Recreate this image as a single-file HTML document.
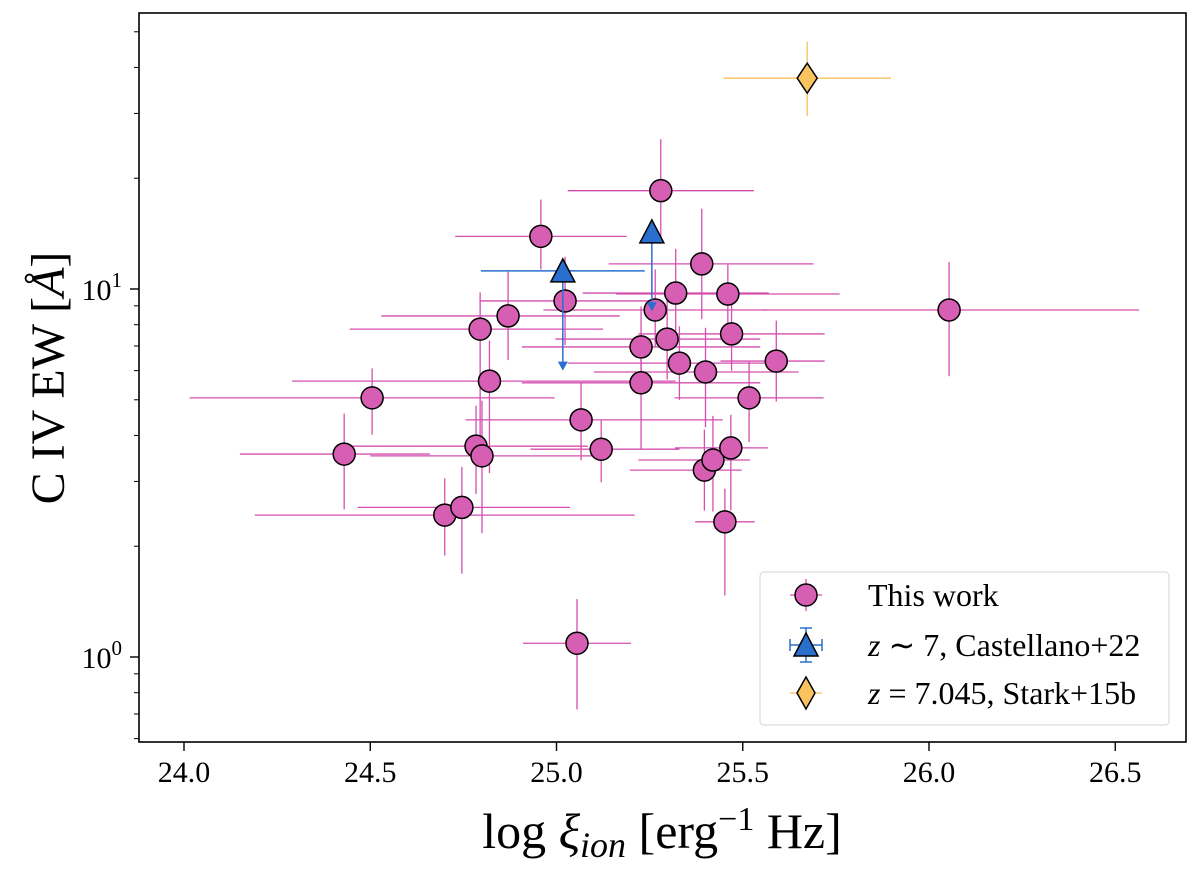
<!DOCTYPE html>
<html><head><meta charset="utf-8"><style>
body{margin:0;background:#fff}
svg{display:block;font-family:"Liberation Serif",serif}
</style></head><body>
<svg id="chart" width="1200" height="869" viewBox="0 0 1200 869">
<rect x="0" y="0" width="1200" height="869" fill="#fff"/>
<g id="axes"></g>
<g id="marks"></g>
<rect x="139" y="13" width="1047" height="729" fill="none" stroke="#000" stroke-width="1.6"/>
<text x="662" y="848" font-size="50" text-anchor="middle">log <tspan font-style="italic">ξ</tspan><tspan font-style="italic" font-size="36" dy="9">ion</tspan><tspan dy="-9"> [erg</tspan><tspan font-size="34" dy="-18">−1</tspan><tspan dy="18"> Hz]</tspan></text>
<text transform="translate(64,378) rotate(-90)" font-size="48" text-anchor="middle">C IV EW [<tspan font-style="italic">Å</tspan>]</text>
<g>
<rect x="760" y="572" width="409" height="153" rx="4" fill="#fff" stroke="#ddd" stroke-width="1.2"/>
<g>
<line x1="790" y1="595" x2="822" y2="595" stroke="#d44fb0" stroke-width="1.3"/><line x1="806" y1="579" x2="806" y2="611" stroke="#d44fb0" stroke-width="1.3"/>
<circle cx="806" cy="595" r="11" fill="#d65fb3" stroke="#000" stroke-width="1.5"/>
<text x="868" y="606" font-size="32">This work</text></g>
<g>
<line x1="790" y1="645" x2="822" y2="645" stroke="#2a6fce" stroke-width="1.5"/><line x1="790" y1="639" x2="790" y2="651" stroke="#2a6fce" stroke-width="1.5"/><line x1="822" y1="639" x2="822" y2="651" stroke="#2a6fce" stroke-width="1.5"/>
<line x1="806" y1="628" x2="806" y2="662" stroke="#2a6fce" stroke-width="1.5"/><line x1="800" y1="628" x2="812" y2="628" stroke="#2a6fce" stroke-width="1.5"/><line x1="800" y1="662" x2="812" y2="662" stroke="#2a6fce" stroke-width="1.5"/>
<polygon points="806,633 818,656 794,656" fill="#2a6fce" stroke="#000" stroke-width="1.5"/>
<text x="868" y="656" font-size="32"><tspan font-style="italic">z</tspan> ∼ 7, Castellano+22</text></g>
<g>
<line x1="790" y1="693" x2="822" y2="693" stroke="#f7c05a" stroke-width="1.3"/>
<polygon points="806,677 815,693 806,709 797,693" fill="#fbc35e" stroke="#000" stroke-width="1.5"/>
<text x="868" y="704" font-size="32"><tspan font-style="italic">z</tspan> = 7.045, Stark+15b</text></g>
</g>
</svg>
<script>
const xVals=[24.505,24.43,24.70,24.746,24.784,24.80,24.795,24.87,24.82,24.958,25.023,25.066,25.12,25.055,25.28,25.227,25.227,25.297,25.265,25.32,25.33,25.39,25.40,25.397,25.42,25.468,25.452,25.46,25.47,25.517,25.59,26.054];
const yVals=[5.06,3.56,2.43,2.55,3.74,3.52,7.78,8.45,5.62,13.9,9.28,4.41,3.67,1.09,18.5,6.96,5.56,7.31,8.77,9.75,6.29,11.7,5.95,3.22,3.43,3.70,2.33,9.69,7.55,5.06,6.37,8.77];
const xErrLo=[0.49,0.28,0.51,0.28,0.36,0.3,0.35,0.34,0.53,0.23,0.23,0.31,0.19,0.145,0.25,0.32,0.32,0.3,0.3,0.25,0.3,0.25,0.3,0.2,0.2,0.15,0.08,0.3,0.25,0.2,0.15,0.5];
const xErrHi=[0.49,0.23,0.51,0.29,0.3,0.3,0.33,0.3,0.5,0.23,0.23,0.38,0.21,0.145,0.25,0.32,0.32,0.25,0.3,0.25,0.25,0.3,0.25,0.1,0.1,0.1,0.08,0.3,0.25,0.2,0.13,0.51];
const yErrLoDex=[0.10,0.15,0.11,0.18,0.13,0.21,0.3,0.12,0.25,0.09,0.12,0.11,0.09,0.18,0.13,0.12,0.18,0.11,0.1,0.11,0.1,0.15,0.15,0.11,0.14,0.17,0.2,0.1,0.1,0.12,0.11,0.18];
const yErrHiDex=[0.08,0.11,0.10,0.11,0.11,0.15,0.1,0.12,0.11,0.1,0.12,0.1,0.08,0.12,0.14,0.11,0.13,0.11,0.11,0.12,0.1,0.15,0.12,0.11,0.12,0.09,0.09,0.08,0.1,0.1,0.11,0.13];
const castX=[25.017,25.256];
const castY=[11.2,14.3];
const castArrowTo=[6.0,8.7];
const castXErrLo=[0.22,0];
const castXErrHi=[0.22,0];
const starkX=[25.673];
const starkY=[37.4];
const starkXErr=[0.225];
const starkYLo=[29.5];
const starkYHi=[47];
const xTicks=[24.0,24.5,25.0,25.5,26.0,26.5];
const xTickLabels=["24.0","24.5","25.0","25.5","26.0","26.5"];

const NS="http://www.w3.org/2000/svg";
const X=v=>184+(v-24)*372.5;
const Y=v=>657-Math.log10(v)*368;
function mk(tag,attrs,parent){const e=document.createElementNS(NS,tag);for(const k in attrs)e.setAttribute(k,attrs[k]);parent.appendChild(e);return e;}
const axes=document.getElementById('axes'),marks=document.getElementById('marks');
xTicks.forEach((t,i)=>{
 const l=mk('line',{x1:X(t),x2:X(t),y1:742,y2:751,stroke:'#000','stroke-width':1.4},axes);
 
 
 const tx=mk('text',{x:X(t),y:782,'font-size':30,'text-anchor':'middle'},axes);tx.textContent=xTickLabels[i];
 
 
});
[[1,'0'],[10,'1']].forEach(([v,e])=>{
 const l=mk('line',{x1:130,x2:139,y1:Y(v),y2:Y(v),stroke:'#000','stroke-width':1.4},axes);
 
 
 const tx=mk('text',{x:122,y:Y(v)+11,'font-size':30,'text-anchor':'end'},axes);
 tx.innerHTML='10<tspan font-size="21" dy="-13">'+e+'</tspan>';
 
 
});
[0.6,0.7,0.8,0.9,2,3,4,5,6,7,8,9,20,30,40,50].forEach(v=>{
 const l=mk('line',{x1:134,x2:139,y1:Y(v),y2:Y(v),stroke:'#000','stroke-width':1},axes);
 
 
});
const pink='#d44fb0';
xVals.forEach((x,i)=>{
 const y=yVals[i];
 const g=mk('g',{},marks);
 
 
 mk('line',{x1:X(x-xErrLo[i]),x2:X(x+xErrHi[i]),y1:Y(y),y2:Y(y),stroke:pink,'stroke-width':1.3},g);
 mk('line',{x1:X(x),x2:X(x),y1:Y(y*Math.pow(10,-yErrLoDex[i])),y2:Y(y*Math.pow(10,yErrHiDex[i])),stroke:pink,'stroke-width':1.3},g);
});
xVals.forEach((x,i)=>{
 const c=mk('circle',{cx:X(x),cy:Y(yVals[i]),r:11,fill:'#d65fb3',stroke:'#000','stroke-width':1.5},marks);
 
 
});
const blue='#2a6fce';
castX.forEach((x,i)=>{
 const g=mk('g',{},marks);
 
 
 const y=castY[i];
 if(castXErrLo[i]>0)mk('line',{x1:X(x-castXErrLo[i]),x2:X(x+castXErrHi[i]),y1:Y(y),y2:Y(y),stroke:blue,'stroke-width':1.5},g);
 mk('line',{x1:X(x),x2:X(x),y1:Y(y),y2:Y(castArrowTo[i])-4,stroke:blue,'stroke-width':1.5},g);
 const ay=Y(castArrowTo[i]);
 mk('polygon',{points:`${X(x)},${ay} ${X(x)-5},${ay-9} ${X(x)+5},${ay-9}`,fill:blue},g);
 const px=X(x),py=Y(y);
 mk('polygon',{points:`${px},${py-12} ${px+12},${py+11} ${px-12},${py+11}`,fill:blue,stroke:'#000','stroke-width':1.5},g);
});
starkX.forEach((x,i)=>{
 const g=mk('g',{},marks);
 
 
 const px=X(x),py=Y(starkY[i]);
 mk('line',{x1:X(x-starkXErr[i]),x2:X(x+starkXErr[i]),y1:py,y2:py,stroke:'#f7c05a','stroke-width':1.3},g);
 mk('line',{x1:px,x2:px,y1:Y(starkYLo[i]),y2:Y(starkYHi[i]),stroke:'#f7c05a','stroke-width':1.3},g);
 mk('polygon',{points:`${px},${py-15} ${px+10},${py} ${px},${py+15} ${px-10},${py}`,fill:'#fbc35e',stroke:'#000','stroke-width':1.5},g);
});
</script>
</body></html>
